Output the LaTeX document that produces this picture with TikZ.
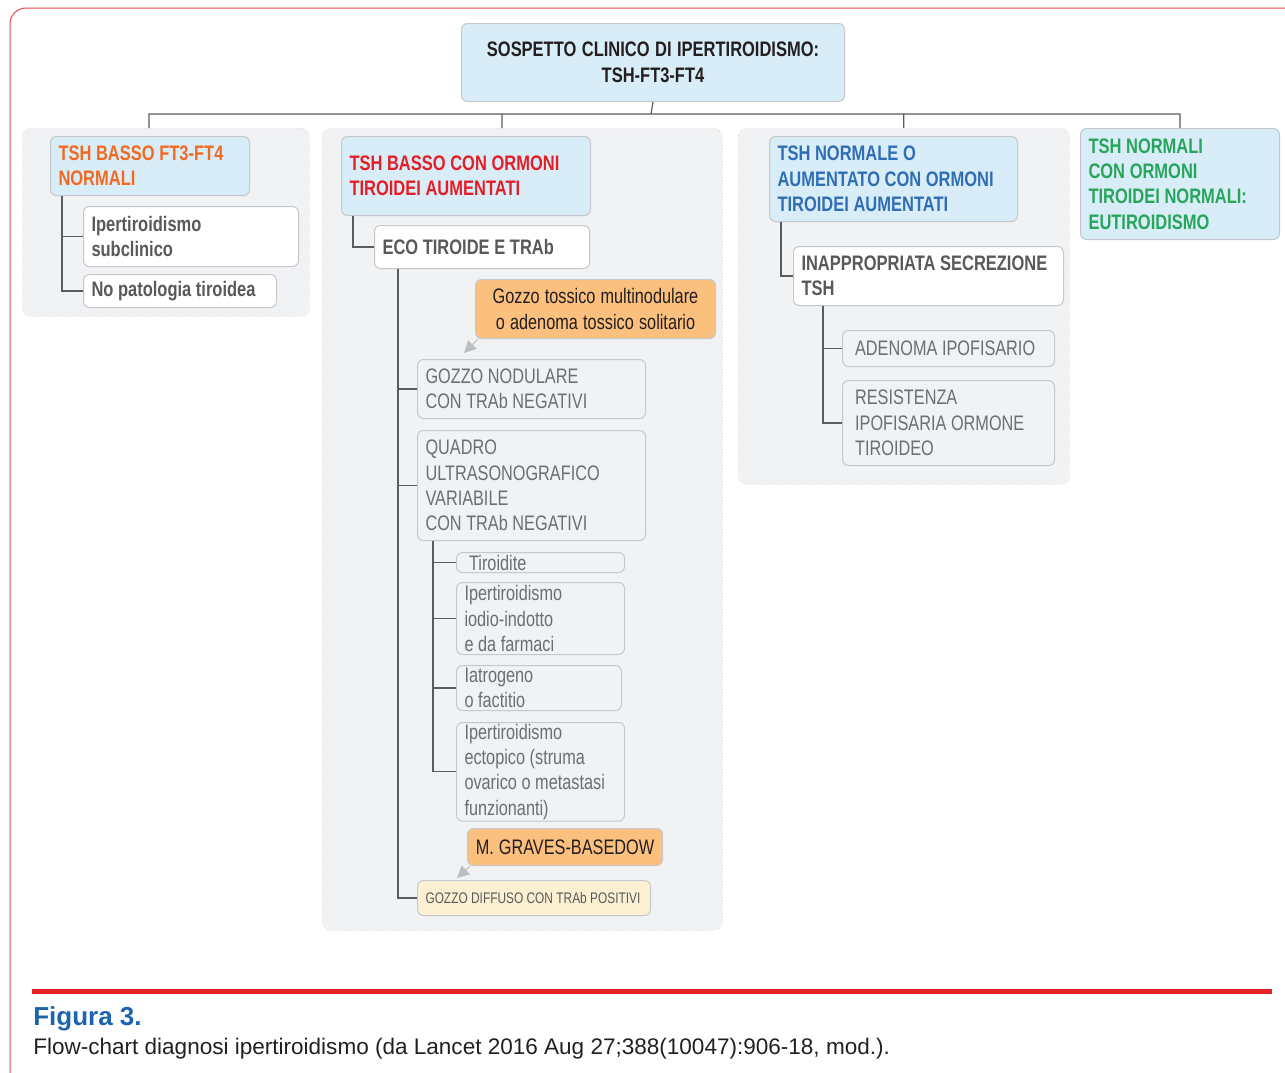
\documentclass[tikz,border=0pt]{standalone}
\usepackage{fontspec}
\setmainfont{Liberation Sans}[UprightFeatures={FakeStretch=0.775}, BoldFeatures={FakeStretch=0.785}]
\newfontfamily\figfont{Liberation Sans}
\usepackage{tikz}
\usetikzlibrary{calc, arrows.meta}
\definecolor{headfill}{HTML}{D9EDF8}
\definecolor{boxline}{HTML}{C4C8CC}
\definecolor{panelfill}{HTML}{F1F2F4}
\definecolor{panelline}{HTML}{BDBFC1}
\definecolor{hotfill}{HTML}{FBBF7E}
\definecolor{creamfill}{HTML}{FBF1D2}
\definecolor{linegray}{HTML}{5A5B5D}
\definecolor{arrowgray}{HTML}{BCBEC0}
\definecolor{darktext}{HTML}{231F20}
\definecolor{boldgray}{HTML}{58595B}
\definecolor{leafgray}{HTML}{6D6E71}
\definecolor{orangetxt}{HTML}{F26A21}
\definecolor{redtxt}{HTML}{E41E26}
\definecolor{bluetxt}{HTML}{2F6EB5}
\definecolor{greentxt}{HTML}{27A55B}
\definecolor{figblue}{HTML}{1D64AE}
\definecolor{barred}{HTML}{E42127}
\definecolor{framered}{HTML}{E9474C}
\newcommand\bxfont{\fontsize{15.75}{19.1}\selectfont}
\tikzset{
  x=0.75pt, y=-0.75pt,
  every node/.style={font=\bxfont, inner xsep=6pt, inner ysep=1pt, anchor=north west, align=left,
    execute at begin node={\spaceskip=0.22em plus 0.1em\hyphenpenalty=10000\exhyphenpenalty=10000}},
  panel/.style={draw=panelline, dotted, fill=panelfill, rounded corners=6pt, inner sep=0pt},
  box/.style={draw=boxline, line width=0.75pt, rounded corners=4.5pt},
  head/.style={box, fill=headfill, font=\bxfont\bfseries},
  plain/.style={box, fill=white, text=boldgray, font=\bxfont\bfseries},
  leaf/.style={box, fill=panelfill, text=leafgray},
  hot/.style={box, fill=hotfill, text=darktext, align=center},
  conn/.style={draw=linegray, line width=0.9pt},
  hint/.style={draw=arrowgray, line width=0.75pt, -{Triangle[length=9pt, width=9pt]}},
  caption/.style={anchor=base west, inner sep=0pt, execute at begin node={\spaceskip=0pt}}
}
\begin{document}
\begin{tikzpicture}
\useasboundingbox (0,0) rectangle (1285,1072);
\clip (0,0) rectangle (1285,1072);
\draw[framered, line width=0.75pt, rounded corners=12pt] (10,8) rectangle (1400,1200);

\node[panel, minimum width=215.25pt, minimum height=141pt] (p1) at (22,128) {};
\node[panel, minimum width=300pt, minimum height=601.5pt] (p2) at (322,128) {};
\node[panel, minimum width=248.25pt, minimum height=267pt] (p3) at (738,128) {};

\node[head, text=darktext, align=center, text width=275.25pt, minimum height=58.5pt] (top) at (461,23)
  {SOSPETTO CLINICO DI IPERTIROIDISMO:\\TSH-FT3-FT4};

\node[head, text=orangetxt, text width=137.25pt, minimum height=44.25pt] (b1) at (50,136) {TSH BASSO FT3-FT4\\NORMALI};
\node[plain, text width=149.25pt, minimum height=45pt] (b1a) at (83,206) {Ipertiroidismo\\subclinico};
\node[plain, text width=132.75pt, minimum height=24.75pt] (b1b) at (83,274) {No patologia tiroidea};

\node[head, text=redtxt, text width=174.75pt, minimum height=59.25pt] (b2) at (341,136) {TSH BASSO CON ORMONI\\TIROIDEI AUMENTATI};
\node[plain, text width=149.25pt, minimum height=32.25pt] (b2a) at (374,225) {ECO TIROIDE E TRAb};
\node[hot, text width=168pt, minimum height=44.25pt] (gt) at (475,279) {Gozzo tossico multinodulare\\o adenoma tossico solitario};
\node[leaf, text width=159pt, minimum height=44.25pt] (gn) at (417,359) {GOZZO NODULARE\\CON TRAb NEGATIVI};
\node[leaf, text width=159pt, minimum height=82.5pt] (qu) at (417,430) {QUADRO\\ULTRASONOGRAFICO\\VARIABILE\\CON TRAb NEGATIVI};
\node[leaf, text width=114pt, minimum height=15pt] (ti) at (456,552) {\ Tiroidite};
\node[leaf, text width=114pt, minimum height=54pt] (io) at (456,582) {Ipertiroidismo\\iodio-indotto\\e da farmaci};
\node[leaf, text width=111.75pt, minimum height=33.75pt] (ia) at (456,665) {Iatrogeno\\o factitio};
\node[leaf, text width=114pt, minimum height=72pt] (ec) at (456,722) {Ipertiroidismo\\ectopico (struma\\ovarico o metastasi\\funzionanti)};
\node[hot, inner xsep=2pt, text width=142.25pt, minimum height=27.75pt] (mg) at (467,828) {M. GRAVES-BASEDOW};
\node[box, fill=creamfill, text=boldgray, font=\fontsize{11.5}{14}\selectfont, text width=162.75pt, minimum height=26.25pt] (gd) at (417,880) {GOZZO DIFFUSO CON TRAb POSITIVI};

\node[head, text=bluetxt, text width=174pt, minimum height=63.75pt] (b3) at (769,136) {TSH NORMALE O\\AUMENTATO CON ORMONI\\TIROIDEI AUMENTATI};
\node[plain, text width=190.5pt, minimum height=44.25pt] (b3a) at (793,246) {INAPPROPRIATA SECREZIONE\\TSH};
\node[leaf, text width=147pt, minimum height=27pt] (ad) at (842,330) {\ ADENOMA IPOFISARIO};
\node[leaf, text width=147pt, minimum height=63.75pt] (re) at (842,380) {\ RESISTENZA\\\ IPOFISARIA ORMONE\\\ TIROIDEO};

\node[head, text=greentxt, text width=137.25pt, minimum height=83.25pt] (b4) at (1080,128) {TSH NORMALI\\CON ORMONI\\TIROIDEI NORMALI:\\EUTIROIDISMO};

\coordinate (bus) at (651,114);
\draw[conn] (top.south) -- (bus)
  ($(p1.north west)+(127,0)$) |- (bus)
  ($(p2.north west)+(180,0)$) |- (bus)
  (p3.north) |- (bus)
  (b4.north) |- (bus);
\draw[conn] ($(b1.south west)+(12,0)$) |- (b1a.west)
  ($(b1.south west)+(12,0)$) |- (b1b.west);
\draw[conn] ($(b2.south west)+(12,0)$) |- (b2a.west);
\draw[conn] ($(b2a.south west)+(24,0)$) |- (gn.west)
  ($(b2a.south west)+(24,0)$) |- (qu.west)
  ($(b2a.south west)+(24,0)$) |- (gd.west);
\draw[conn] ($(qu.south west)+(16,0)$) |- (ti.west)
  ($(qu.south west)+(16,0)$) |- (io.west)
  ($(qu.south west)+(16,0)$) |- (ia.west)
  ($(qu.south west)+(16,0)$) |- (ec.west);
\draw[conn] ($(b3.south west)+(12,0)$) |- (b3a.west);
\draw[conn] ($(b3a.south west)+(30,0)$) |- (ad.west)
  ($(b3a.south west)+(30,0)$) |- (re.west);
\draw[hint] ($(gt.south west)+(3,0)$) -- ($(gn.north west)+(47,-6)$);
\draw[hint] ($(mg.south west)+(3,0)$) -- ($(gd.north west)+(40,-2)$);

\coordinate (r1) at (32,991);
\coordinate (r2) at (1272,991);
\draw[barred, line width=3.75pt] (r1) -- (r2);
\node[caption, font={\fontsize{19.5}{22}\figfont\bfseries}, text=figblue] (fig) at (33,1025) {Figura 3.};
\node[caption, font={\fontsize{16.9}{20}\figfont}, text=darktext] (cap) at (33,1054)
  {Flow-chart diagnosi ipertiroidismo (da Lancet 2016 Aug 27;388(10047):906-18, mod.).};
\end{tikzpicture}
\end{document}
